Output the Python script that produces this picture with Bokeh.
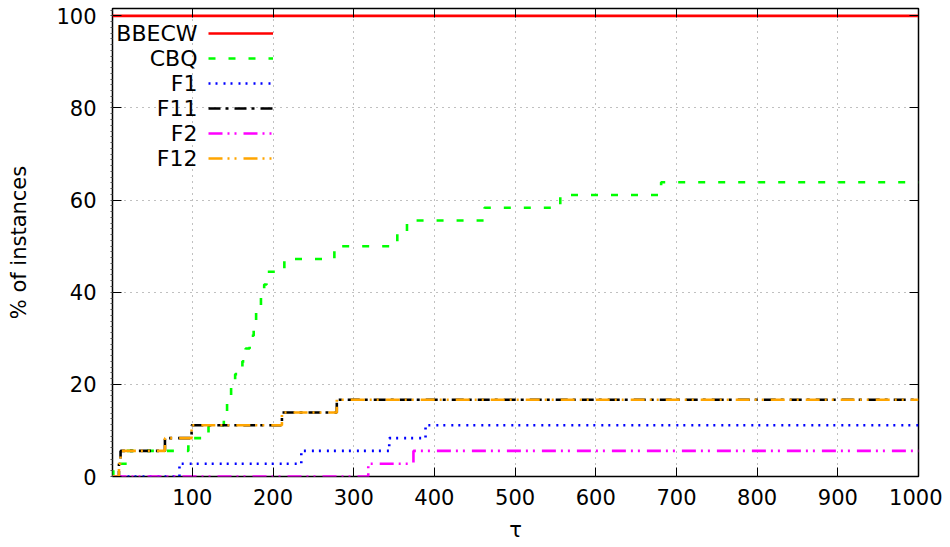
from bokeh.plotting import figure
from bokeh.models import Range1d, FixedTicker, LinearAxis, Legend, LegendItem, Label
from bokeh.embed import file_html
from bokeh.resources import INLINE

# ---- data ----
solvers = ["BBECW", "CBQ", "F1", "F11", "F2", "F12"]

bbecw_tau = [1, 1000]
bbecw_pct = [100.0, 100.0]

cbq_tau = [1, 2, 19, 95, 120, 139, 143, 148, 153, 162, 166, 171, 176, 179,
           185, 189, 192, 214, 276, 354, 366, 462, 556, 681, 1000]
cbq_pct = [0.0, 2.78, 5.56, 8.33, 11.11, 13.89, 16.67, 19.44, 22.22, 25.0,
           27.78, 30.56, 33.33, 36.11, 38.89, 41.67, 44.44, 47.22, 50.0,
           52.78, 55.56, 58.33, 61.11, 63.89, 63.89]

f1_tau = [1, 84, 235, 344, 389, 1000]
f1_pct = [0.0, 2.78, 5.56, 8.33, 11.11, 11.11]

f11_tau = [1, 9, 11, 66, 99, 211, 279, 1000]
f11_pct = [0.0, 2.78, 5.56, 8.33, 11.11, 13.89, 16.67, 16.67]

f2_tau = [1, 318, 374, 1000]
f2_pct = [0.0, 2.78, 5.56, 5.56]

f12_tau = [1, 9, 11, 66, 99, 211, 279, 1000]
f12_pct = [0.0, 2.78, 5.56, 8.33, 11.11, 13.89, 16.67, 16.67]

x_ticks = [100, 200, 300, 400, 500, 600, 700, 800, 900, 1000]
y_ticks = [0, 20, 40, 60, 80, 100]

x_title = "τ"
y_title = "% of instances"

FONT = "DejaVu Sans"
FS = "21px"
LEG_FS = "22px"

p = figure(frame_width=806, frame_height=468,
           x_range=Range1d(1, 1000), y_range=Range1d(0, 101.6),
           output_backend="svg", toolbar_location=None,
           min_border_left=112, min_border_right=24,
           min_border_top=8, min_border_bottom=71,
           background_fill_color="white", border_fill_color="white")

xticker = FixedTicker(ticks=x_ticks)
yticker = FixedTicker(ticks=y_ticks,
                      minor_ticks=[i * 1.25 for i in range(0, 82)])

xa = p.xaxis[0]
ya = p.yaxis[0]
xa.ticker = xticker
ya.ticker = yticker
for ax in (xa, ya):
    ax.axis_line_color = None
    ax.major_tick_in = 9
    ax.major_tick_out = 0
    ax.major_tick_line_color = "black"
    ax.major_tick_line_width = 1
    ax.major_label_text_font = FONT
    ax.major_label_text_font_size = FS
    ax.major_label_text_color = "black"
    ax.axis_label_text_font = FONT
    ax.axis_label_text_font_size = FS
    ax.axis_label_text_font_style = "normal"
    ax.axis_label_text_color = "black"
xa.minor_tick_line_color = None
xa.major_label_standoff = 12
xa.axis_label = x_title
xa.axis_label_standoff = 10
ya.minor_tick_in = 0
ya.minor_tick_out = 2
ya.minor_tick_line_color = "#555555"
ya.major_label_standoff = 14
ya.axis_label = y_title
ya.axis_label_standoff = 22

top = LinearAxis(ticker=xticker, major_tick_in=9, major_tick_out=0,
                 minor_tick_line_color=None, axis_line_color=None,
                 major_label_overrides={t: "" for t in x_ticks},
                 major_label_text_font_size="1px", major_label_standoff=0,
                 major_tick_line_color="black")
right = LinearAxis(ticker=FixedTicker(ticks=y_ticks), major_tick_in=9, major_tick_out=0,
                   minor_tick_line_color=None, axis_line_color=None,
                   major_label_overrides={t: "" for t in y_ticks},
                   major_label_text_font_size="1px", major_label_standoff=0,
                   major_tick_line_color="black")
p.add_layout(top, "above")
p.add_layout(right, "right")

p.xgrid.ticker = xticker
p.ygrid.ticker = FixedTicker(ticks=y_ticks)
for g in (p.xgrid, p.ygrid):
    g.grid_line_color = "#808080"
    g.grid_line_dash = "1 5"
    g.grid_line_width = 1

p.outline_line_color = "black"
p.outline_line_width = 1.5

LW = 2.6
styles = [
    (bbecw_tau, bbecw_pct, "#ff0000", "solid"),
    (cbq_tau, cbq_pct, "#00ff00", "7 13"),
    (f1_tau, f1_pct, "#0000ff", "2 5 2 6"),
    (f11_tau, f11_pct, "#000000", "12 5 3 6"),
    (f2_tau, f2_pct, "#ff00ff", "14 5 2 5 2 7"),
    (f12_tau, f12_pct, "#ffa500", "14 5 2 5 2 7"),
]
renderers = []
for tau, pct, color, dash in styles:
    r = p.step(tau, pct, mode="after", line_color=color, line_width=LW,
               line_dash=dash)
    renderers.append(r)

items = [LegendItem(label=" ", renderers=[r]) for r in renderers]
legend = Legend(items=items, location=(96, 308),
                glyph_width=65, glyph_height=20, label_width=0, label_height=20,
                label_standoff=0, spacing=5, padding=0, margin=0,
                border_line_color=None, background_fill_alpha=0,
                label_text_font_size="1px")
p.add_layout(legend)

for i, name in enumerate(solvers):
    p.add_layout(Label(x=85, y=443.5 - 25 * i, x_units="screen", y_units="screen",
                       text=name, text_align="right", text_baseline="middle",
                       text_font=FONT, text_font_size=LEG_FS, text_color="black"))

open("out.html", "w").write(file_html(p, INLINE))
